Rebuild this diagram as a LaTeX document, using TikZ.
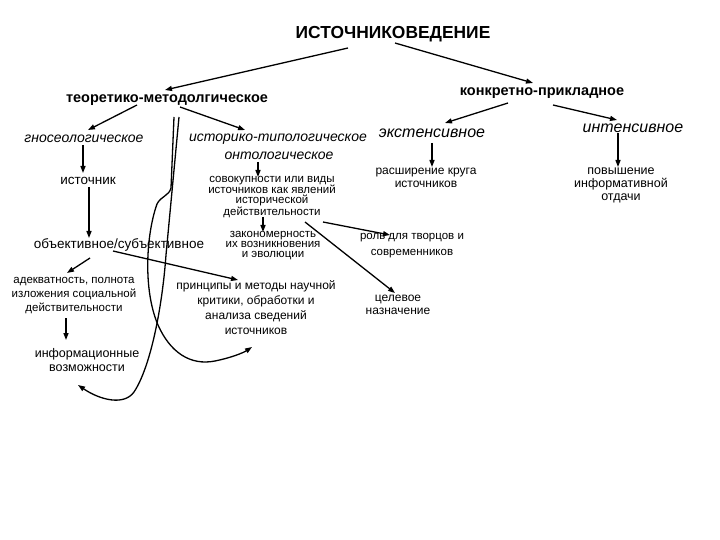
\documentclass[tikz,border=0pt]{standalone}
\usepackage{fontspec}
\setmainfont{Liberation Sans}
\usetikzlibrary{arrows.meta,calc}
\tikzset{
  lbl/.style={inner sep=1pt, align=center},
  ttl/.style={lbl, font=\bfseries\fontsize{17.4}{20}\selectfont},
  hd/.style={lbl, font=\bfseries\fontsize{14.5}{17}\selectfont},
  itl/.style={lbl, font=\itshape\fontsize{14}{16}\selectfont},
  itr/.style={lbl, font=\itshape\fontsize{16}{18}\selectfont},
  arr/.style={line width=1.3pt, -{Triangle[length=7pt,width=5pt]}},
  crv/.style={line width=1.3pt},
}
\begin{document}
\begin{tikzpicture}[x=1pt,y=-1pt]
\useasboundingbox[fill=white] (0,0) rectangle (720,540);
% nodes
\node[ttl] (title) at (393,34) {ИСТОЧНИКОВЕДЕНИЕ};
\node[hd] (teor) at (167,100) {теоретико-методолгическое};
\node[hd] (konk) at (542,93) {конкретно-прикладное};
\node[itl] (gnos) at (84,139) {гносеологическое};
\node[itl] (istor) at (278,139) {историко-типологическое};
\node[itl] (onto) at (279,156) {онтологическое};
\node[itr] (ekst) at (432,133) {экстенсивное};
\node[itr] (inte) at (633,128) {интенсивное};
\node[lbl, font=\fontsize{13.5}{15}\selectfont] (ist) at (88,181) {источник};
\node[lbl, font=\fontsize{13.5}{15}\selectfont] (obj) at (119,245) {объективное/субъективное};
\node[lbl, font=\fontsize{11.5}{14}\selectfont] (adek) at (74,296) {адекватность, полнота\\изложения социальной\\действительности};
\node[lbl, font=\fontsize{12.5}{14}\selectfont] (inf) at (87,360) {информационные\\возможности};
\node[lbl, font=\fontsize{11.5}{10}\selectfont] (sov) at (272,197) {совокупности или виды\\источников как явлений\\исторической\\действительности};
\node[lbl, font=\fontsize{11.5}{10}\selectfont] (zak) at (273,246) {закономерность\\их возникновения\\и эволюции};
\node[lbl, font=\fontsize{12}{15}\selectfont] (prin) at (256,308) {принципы и методы научной\\критики, обработки и\\анализа сведений\\источников};
\node[lbl, font=\fontsize{11.5}{16}\selectfont] (rol) at (412,246) {роль для творцов и\\современников};
\node[lbl, font=\fontsize{12}{13}\selectfont] (cel) at (398,305) {целевое\\назначение};
\node[lbl, font=\fontsize{12}{13}\selectfont] (rash) at (426,178) {расширение круга\\источников};
\node[lbl, font=\fontsize{12.5}{13}\selectfont] (pov) at (621,185) {повышение\\информативной\\отдачи};
% straight arrows
\draw[arr] ($(title)+(-45,14)$) -- ($(teor)+(-2,-10)$);
\draw[arr] ($(title)+(2,9)$) -- ($(konk)+(-9,-10)$);
\draw[arr] ($(teor)+(-30,5)$) -- ($(gnos)+(4,-9)$);
\draw[arr] ($(teor)+(13,7)$) -- ($(istor)+(-33,-9)$);
\draw[arr] ($(konk)+(-34,10)$) -- ($(ekst)+(13,-10)$);
\draw[arr] ($(konk)+(11,12)$) -- ($(inte)+(-16,-8)$);
\draw[arr] ($(gnos)+(-1,6)$) -- ($(ist)+(-5,-8)$);
\draw[arr] ($(ist)+(1,6)$) -- ($(obj)+(-30,-7)$);
\draw[arr] ($(obj)+(-29,13)$) -- ($(adek)+(-7,-23)$);
\draw[arr] ($(adek)+(-8,22)$) -- ($(inf)+(-21,-20)$);
\draw[arr] ($(onto)+(-21,6)$) -- ($(sov)+(-14,-20)$);
\draw[arr] ($(sov)+(-9,20)$) -- ($(zak)+(-10,-14)$);
\draw[arr] ($(sov)+(51,25)$) -- ($(rol)+(-22,-11)$);
\draw[arr] ($(sov)+(33,25)$) -- ($(cel)+(-3,-12)$);
\draw[arr] ($(ekst)+(0,10)$) -- ($(rash)+(6,-11)$);
\draw[arr] ($(inte)+(-15,5)$) -- ($(pov)+(-3,-18)$);
\draw[arr] ($(obj)+(-6,6)$) -- ($(prin)+(-18,-28)$);
% curves
\draw[crv, -{Triangle[length=7pt,width=5pt]}] ($(teor)+(7,17)$) -- (171,188)
  .. controls (169,196) and (161,196) .. (157,204)
  .. controls (146,235) and (143,290) .. (158,325)
  .. controls (170,352) and (190,366) .. (215,361)
  .. controls (230,358) and (243,353) .. ($(prin)+(-4,39)$);
\draw[crv, -{Triangle[length=7pt,width=5pt]}] ($(teor)+(12,17)$) -- (166,255)
  .. controls (162,310) and (150,368) .. (134,392)
  .. controls (124,406) and (100,400) .. ($(inf)+(-9,25)$);
\end{tikzpicture}
\end{document}
